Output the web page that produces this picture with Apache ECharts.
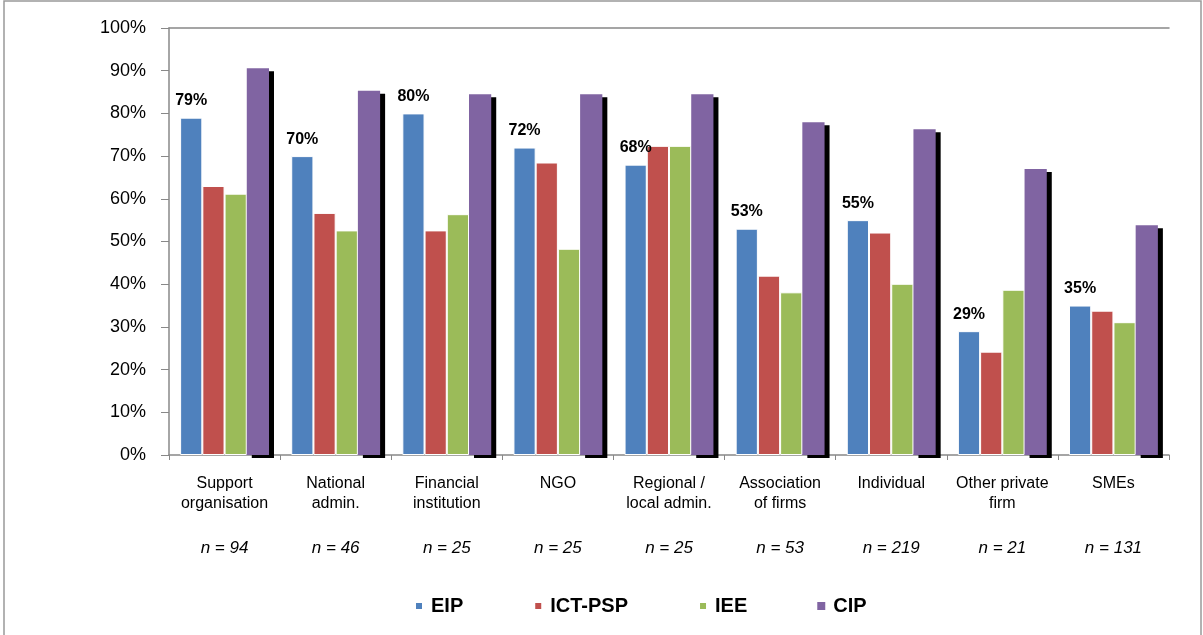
<!DOCTYPE html>
<html>
<head>
<meta charset="utf-8">
<script src="https://cdn.jsdelivr.net/npm/echarts@6/dist/echarts.min.js"></script>
<style>
html,body{margin:0;padding:0;background:#fff;}
#c{width:1203px;height:635px;}
</style>
</head>
<body>
<div id="c"></div>
<script>
const categories = ['Support\norganisation','National\nadmin.','Financial\ninstitution','NGO','Regional /\nlocal admin.','Association\nof firms','Individual','Other private\nfirm','SMEs'];
const sampleSizes = ['n = 94','n = 46','n = 25','n = 25','n = 25','n = 53','n = 219','n = 21','n = 131'];
const seriesNames = ['EIP','ICT-PSP','IEE','CIP'];
const eip    = [79, 70, 80, 72, 68, 53, 55, 29, 35];
const ictpsp = [63.0, 56.7, 52.6, 68.5, 72.4, 42.0, 52.1, 24.2, 33.8];
const iee    = [61.2, 52.6, 56.4, 48.3, 72.4, 38.1, 40.1, 38.7, 31.1];
const cip    = [90.6, 85.3, 84.5, 84.5, 84.5, 77.9, 76.3, 67.0, 53.8];
const yTicks = [0,10,20,30,40,50,60,70,80,90,100];

const colors = ['#4F81BD','#C0504D','#9BBB59','#8064A2'];
const font = 'Liberation Sans, Arial, sans-serif';

const chart = echarts.init(document.getElementById('c'), null, {renderer:'canvas'});
const values = [eip, ictpsp, iee, cip];

const series = values.map((arr, i) => {
  const s = {
    name: seriesNames[i],
    type: 'bar',
    data: arr,
    barGap: '0%',
    barCategoryGap: '20%',
    itemStyle: { color: colors[i], borderColor: '#fff', borderWidth: 1 }
  };
  if (i === 0) {
    s.label = {
      show: true, position: 'top', distance: 9,
      formatter: p => Math.round(p.value) + '%',
      fontFamily: font, fontWeight: 'bold', fontSize: 16, color: '#000'
    };
  }
  if (i === 3) {
    s.itemStyle = {
      color: colors[i], borderWidth: 0,
      shadowColor: '#000', shadowOffsetX: 5, shadowOffsetY: 3, shadowBlur: 0
    };
  }
  return s;
});

chart.setOption({
  animation: false,
  backgroundColor: '#fff',
  grid: { left: 169, right: 34, top: 28, bottom: 180, containLabel: false },
  legend: {
    data: seriesNames,
    top: 591,
    left: 409,
    itemWidth: 8, itemHeight: 8, itemGap: 70,
    icon: 'rect',
    textStyle: { fontFamily: font, fontWeight: 'bold', fontSize: 20, color: '#000', padding: [0,0,0,3] }
  },
  xAxis: [
    {
      type: 'category', data: categories, position: 'bottom',
      axisLine: { show: true, lineStyle: { color: '#888', width: 1.5 } },
      axisTick: { show: true, length: 5, lineStyle: { color: '#888' } },
      axisLabel: { fontFamily: font, fontSize: 16, color: '#000', lineHeight: 20, margin: 19, interval: 0 }
    },
    {
      type: 'category', data: sampleSizes, position: 'bottom', offset: 77,
      axisLine: { show: false }, axisTick: { show: false },
      axisLabel: { fontFamily: font, fontSize: 17, fontStyle: 'italic', color: '#000', interval: 0 }
    },
    {
      type: 'category', data: categories, position: 'top',
      axisLine: { show: true, lineStyle: { color: '#888', width: 1.5 } },
      axisTick: { show: false }, axisLabel: { show: false }
    }
  ],
  yAxis: {
    type: 'value', min: 0, max: 100, interval: 10,
    axisLine: { show: true, lineStyle: { color: '#888', width: 1.5 } },
    axisTick: { show: true, length: 8, inside: false, lineStyle: { color: '#888' } },
    splitLine: { show: false },
    axisLabel: { formatter: '{value}%', fontFamily: font, fontSize: 18, color: '#000', margin: 23 }
  },
  graphic: [{
    type: 'rect', silent: true,
    shape: { x: 4, y: 1, width: 1197, height: 640 },
    style: { fill: 'none', stroke: '#999', lineWidth: 1.5 }
  }],
  series: series
});
</script>
</body>
</html>
